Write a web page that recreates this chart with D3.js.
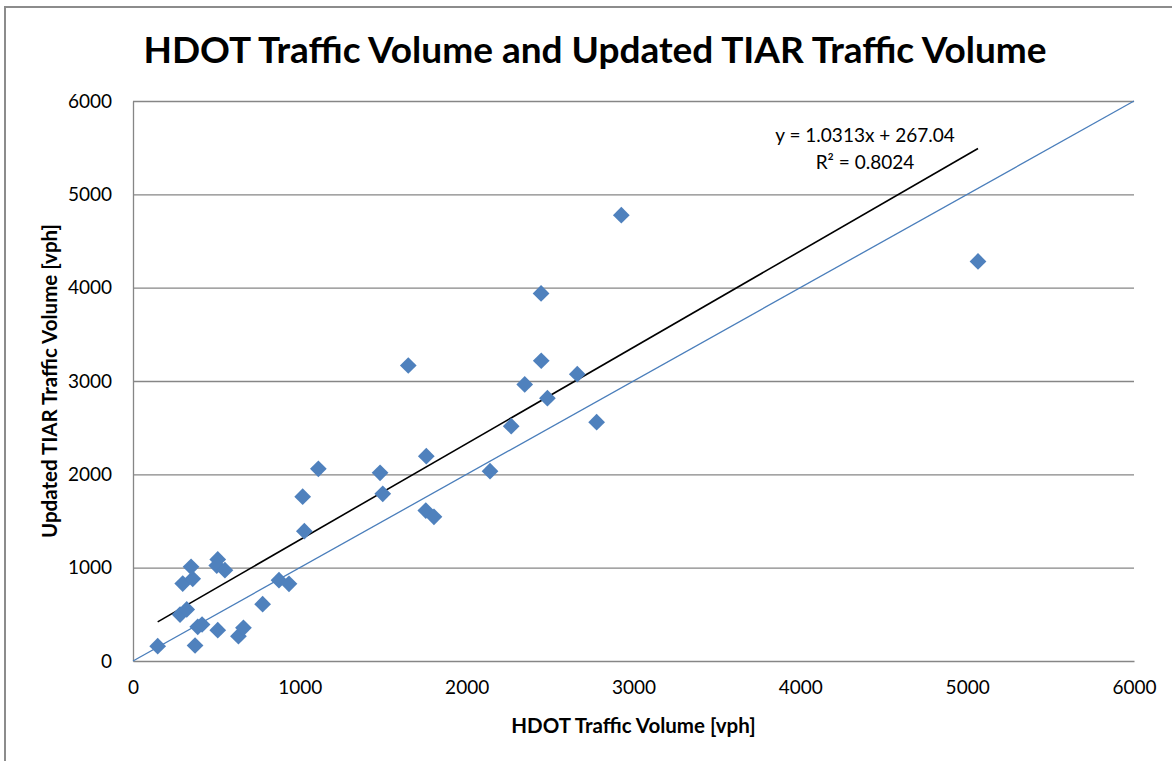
<!DOCTYPE html>
<html>
<head>
<meta charset="utf-8">
<script src="https://cdn.jsdelivr.net/npm/d3@7"></script>
<style>
  body { margin: 0; background: #fff; }
  svg text { font-family: Lato, "Open Sans", sans-serif; fill: #000; }
  .grid line { stroke: #868686; stroke-width: 1.3; }
  .axis path, .axis line { stroke: #868686; stroke-width: 1.3; }
  .axis text { font-size: 19px; }
  .title { font-size: 37px; font-weight: bold; }
  .axTitle { font-size: 20.5px; font-weight: bold; }
  .eq { font-size: 19px; }
</style>
</head>
<body>
<svg width="1172" height="761"></svg>
<script>
const width = 1172
const height = 761
const margins = { top: 101, bottom: 100, left: 133, right: 38 }

// HDOT volume (x) vs updated TIAR volume (y)
const hdot = [148, 372, 298, 358, 348, 508, 502, 551, 282, 322, 388, 414, 508, 632, 662,
    777, 875, 935, 1017, 1027, 1111, 1481, 1497, 1650, 1758, 1755, 1804, 2140, 2267, 2348,
    2446, 2484, 2447, 2663, 2779, 2927, 5065]
const tiar = [159, 166, 830, 880, 1009, 1088, 1023, 973, 498, 552, 366, 391, 330, 266, 356,
    609, 866, 827, 1760, 1391, 2059, 2016, 1791, 3166, 2194, 1612, 1545, 2034, 2516, 2963,
    3938, 2816, 3217, 3073, 2559, 4777, 4281]

// trend line from the chart label
const slope = 1.0313
const intercept = 267.04
const eqLabel = "y = 1.0313x + 267.04"
const r2Label = "R² = 0.8024"

const ticks = [0, 1000, 2000, 3000, 4000, 5000, 6000]

const svg = d3.select('svg')

// outer chart border (cut off at right and bottom)
svg.append('rect')
    .attr('x', 5).attr('y', 7)
    .attr('width', width + 20).attr('height', height + 20)
    .attr('fill', 'none')
    .attr('stroke', '#8c8c8c')
    .attr('stroke-width', 2)

const xScale = d3.scaleLinear().domain([0, 6000]).range([margins.left, width - margins.right])
const yScale = d3.scaleLinear().domain([0, 6000]).range([height - margins.bottom, margins.top])

// horizontal grid
svg.append('g')
    .attr('class', 'grid')
    .attr('transform', `translate(${margins.left},0)`)
    .call(d3.axisRight(yScale).tickValues(ticks.slice(1))
        .tickSize(xScale(6000) - margins.left).tickFormat(''))
    .call(g => g.select('.domain').remove())

// axes
svg.append('g')
    .attr('class', 'axis')
    .attr('transform', `translate(0,${yScale(0)})`)
    .call(d3.axisBottom(xScale).tickValues(ticks).tickSize(0).tickPadding(20).tickFormat(d3.format('d')))

svg.append('g')
    .attr('class', 'axis')
    .attr('transform', `translate(${margins.left},0)`)
    .call(d3.axisLeft(yScale).tickValues(ticks).tickSize(0).tickPadding(21).tickFormat(d3.format('d')))

// y = x reference line
svg.append('line')
    .attr('x1', xScale(0)).attr('y1', yScale(0))
    .attr('x2', xScale(6000)).attr('y2', yScale(6000))
    .attr('stroke', '#4a7ebb').attr('stroke-width', 1.3)

// trend line over data range
const xExt = d3.extent(hdot)
svg.append('line')
    .attr('x1', xScale(xExt[0])).attr('y1', yScale(slope * xExt[0] + intercept))
    .attr('x2', xScale(xExt[1])).attr('y2', yScale(slope * xExt[1] + intercept))
    .attr('stroke', '#000').attr('stroke-width', 1.6)

// points
const diamond = d3.symbol().type(d3.symbolSquare).size(140)
svg.append('g')
    .selectAll('path')
    .data(hdot.map((d, i) => [d, tiar[i]]))
    .join('path')
    .attr('d', diamond)
    .attr('transform', d => `translate(${xScale(d[0])},${yScale(d[1])}) rotate(45)`)
    .attr('fill', '#4f81bd')

// equation
svg.append('text').attr('class', 'eq')
    .attr('x', 865).attr('y', 142).attr('text-anchor', 'middle').text(eqLabel)
svg.append('text').attr('class', 'eq')
    .attr('x', 865).attr('y', 169).attr('text-anchor', 'middle').text(r2Label)

// titles
svg.append('text').attr('class', 'title')
    .attr('x', 595).attr('y', 63).attr('text-anchor', 'middle')
    .text('HDOT Traffic Volume and Updated TIAR Traffic Volume')

svg.append('text').attr('class', 'axTitle')
    .attr('x', (xScale(0) + xScale(6000)) / 2).attr('y', 733).attr('text-anchor', 'middle')
    .text('HDOT Traffic Volume [vph]')

svg.append('text').attr('class', 'axTitle')
    .attr('transform', `translate(57,${(yScale(0) + yScale(6000)) / 2}) rotate(-90)`)
    .attr('text-anchor', 'middle')
    .text('Updated TIAR Traffic Volume [vph]')
</script>
</body>
</html>
